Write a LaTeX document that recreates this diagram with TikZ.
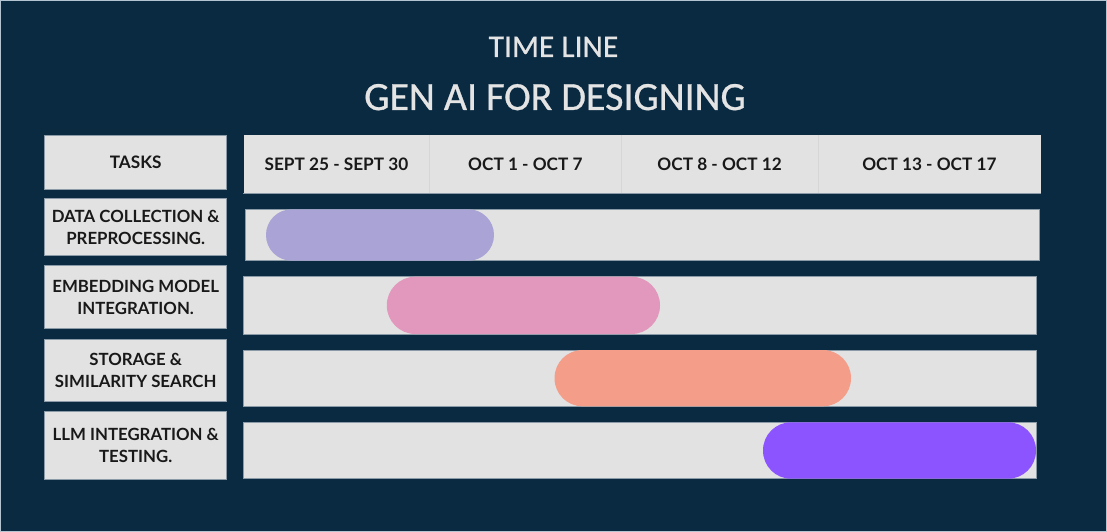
\documentclass[tikz,border=0pt]{standalone}
\usepackage{fontspec}
\newfontfamily\titlefont{Carlito}[FakeBold=0.7]
\newfontfamily\labelfont{Lato}[BoldFont={Lato Bold}]
\definecolor{navy}{HTML}{0A2A42}
\definecolor{cellgray}{HTML}{E2E2E2}
\definecolor{cellline}{HTML}{8A9AA6}
\definecolor{divline}{HTML}{D6D6D6}
\definecolor{titlegray}{HTML}{E4E4E4}
\definecolor{edgeline}{HTML}{B4C4D0}
\definecolor{pillA}{HTML}{A9A3D6}
\definecolor{pillB}{HTML}{E298BC}
\definecolor{pillC}{HTML}{F49E8A}
\definecolor{pillD}{HTML}{8C54FF}
\tikzset{
  cellbox/.style={fill=cellgray, draw=cellline, line width=0.7pt, inner sep=0pt,
    font=\labelfont\bfseries\fontsize{16.8}{22}\selectfont, text=black!90, align=center},
  datecell/.style={fill=cellgray, draw=none, inner sep=0pt,
    font=\labelfont\bfseries\fontsize{17.2}{22}\selectfont, text=black!90},
  barbox/.style={fill=cellgray, draw=cellline, line width=0.6pt, inner sep=0pt},
  pill/.style={draw=none, inner sep=0pt},
  titletext/.style={text=titlegray, inner sep=0pt, anchor=base}
}
\begin{document}
\begin{tikzpicture}[x=1pt,y=-1pt]
\useasboundingbox (0,0) rectangle (1107,532);
\fill[navy] (0,0) rectangle (1107,532);
\draw[edgeline, line width=1.2pt] (0.6,0.6) rectangle (1106.4,531.4);

% titles
\node[titletext, font=\titlefont\fontsize{31.5}{36}\selectfont] (title1) at (553.5,57) {TIME LINE};
\node[titletext, font=\titlefont\fontsize{40}{44}\selectfont] (title2) at (555,110) {GEN AI FOR DESIGNING};

% header
\node[cellbox, font=\labelfont\bfseries\fontsize{17.2}{22}\selectfont, minimum width=182.2pt, minimum height=54pt] (tasks) at (135.7,162) {TASKS};
\node[datecell, minimum width=185.7pt, minimum height=58pt] (d1) at (336.45,164) {SEPT 25 - SEPT 30};
\node[datecell, minimum width=192.1pt, minimum height=58pt] (d2) at (525.35,164) {OCT 1 - OCT 7};
\node[datecell, minimum width=196.4pt, minimum height=58pt] (d3) at (719.6,164) {OCT 8 - OCT 12};
\node[datecell, minimum width=223.2pt, minimum height=58pt] (d4) at (929.4,164) {OCT 13 - OCT 17};
\draw[divline, line width=0.6pt] (d1.north east) -- (d1.south east);
\draw[divline, line width=0.6pt] (d2.north east) -- (d2.south east);
\draw[divline, line width=0.6pt] (d3.north east) -- (d3.south east);
\draw[cellline, line width=0.5pt] (d1.south west) -- (d4.south east);

% task labels
\node[cellbox, minimum width=182.2pt, minimum height=57.4pt] (t1) at (135.7,227) {DATA COLLECTION \&\\PREPROCESSING.};
\node[cellbox, minimum width=182.2pt, minimum height=63pt] (t2) at (135.7,297.2) {EMBEDDING MODEL\\INTEGRATION.};
\node[cellbox, minimum width=182.2pt, minimum height=62pt] (t3) at (135.7,370) {STORAGE \&\\SIMILARITY SEARCH};
\node[cellbox, minimum width=182.2pt, minimum height=68.7pt] (t4) at (135.7,445.35) {LLM INTEGRATION \&\\TESTING.};

% bar backgrounds
\node[barbox, minimum width=793.3pt, minimum height=51.4pt] (b1) at (642.35,235) {};
\node[barbox, minimum width=793pt, minimum height=57.3pt] (b2) at (640.1,305.35) {};
\node[barbox, minimum width=793pt, minimum height=56.3pt] (b3) at (640.1,378.15) {};
\node[barbox, minimum width=793pt, minimum height=56.4pt] (b4) at (640.1,450.5) {};

% pills
\node[pill, fill=pillA, rounded corners=25.6pt, minimum width=228pt, minimum height=51.4pt] (p1) at (380,235) {};
\node[pill, fill=pillB, rounded corners=28.5pt, minimum width=273.2pt, minimum height=57.3pt] (p2) at (523.4,305.35) {};
\node[pill, fill=pillC, rounded corners=28pt, minimum width=296.5pt, minimum height=56.3pt] (p3) at (702.75,378.15) {};
\node[pill, fill=pillD, rounded corners=28pt, minimum width=273pt, minimum height=56.4pt] (p4) at (899.5,450.5) {};
\end{tikzpicture}
\end{document}
